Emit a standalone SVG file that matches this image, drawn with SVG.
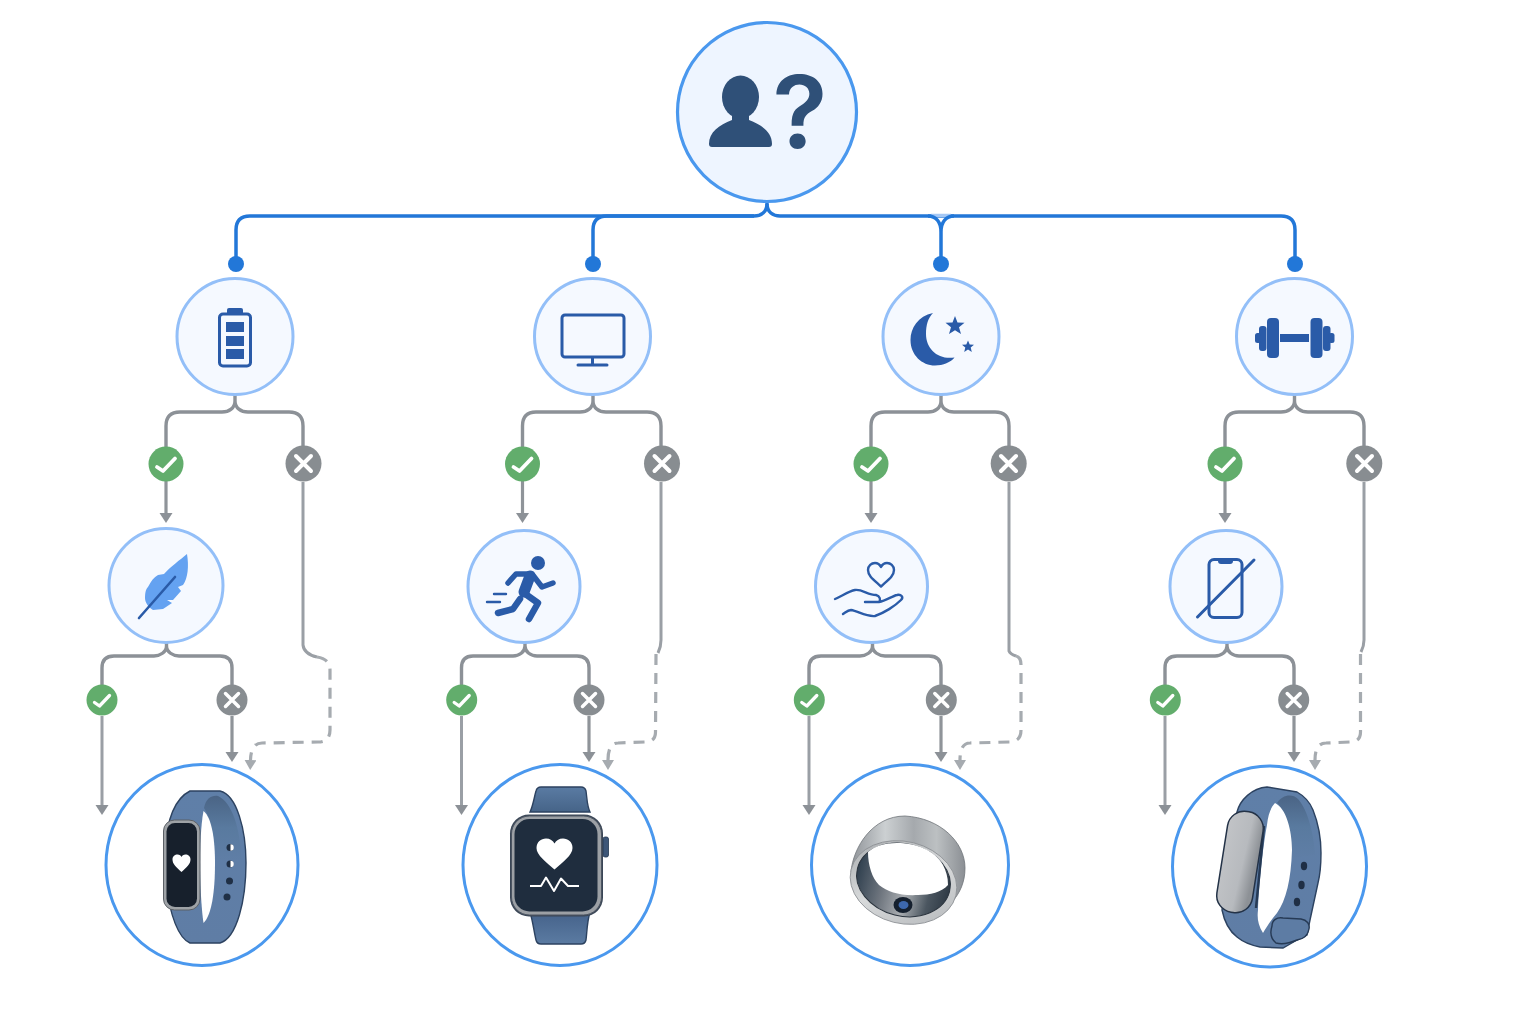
<svg xmlns="http://www.w3.org/2000/svg" width="1536" height="1024" viewBox="0 0 1536 1024">
<style>
.bg{fill:#fff}
.root{fill:#eef5ff;stroke:#4a98ee;stroke-width:3.2}
.q{fill:#f5f9ff;stroke:#93bff8;stroke-width:3}
.dev{fill:#fff;stroke:#4a98ee;stroke-width:3}
.bus{fill:none;stroke:#2277d8;stroke-width:3.5}
.dot{fill:#2277d8}
.br{fill:none;stroke:#8c9197;stroke-width:3.4}
.ar{fill:none;stroke:#8f9499;stroke-width:3.2}
.arl{fill:none;stroke:#9a9fa5;stroke-width:3}
.dash{fill:none;stroke:#a6abb0;stroke-width:3.2;stroke-dasharray:11 8}
.yes{fill:#62ad6c}
.no{fill:#888d91}
.mk{fill:none;stroke:#fff;stroke-linecap:round;stroke-linejoin:round}
.ic{fill:#2a5ba8}
.il{fill:none;stroke:#2a5ba8;stroke-width:3;stroke-linecap:round;stroke-linejoin:round}
.il2{fill:none;stroke:#2a5ba8;stroke-width:2.4;stroke-linecap:round;stroke-linejoin:round}
.limb{fill:none;stroke:#2a5ba8;stroke-width:6.5;stroke-linecap:round;stroke-linejoin:round}
.strap{stroke:#2c4260;stroke-width:1.4}
.hole{fill:#1f2f45}
</style>
<defs>
<marker id="a" markerUnits="userSpaceOnUse" markerWidth="13" markerHeight="14" refX="0" refY="6.5" orient="auto"><path d="M0 0L10 6.5L0 13Z" fill="#8c9197"/></marker>
<marker id="b" markerUnits="userSpaceOnUse" markerWidth="13" markerHeight="14" refX="0" refY="6" orient="auto"><path d="M0 0L10 6L0 12Z" fill="#a6abb0"/></marker>
<linearGradient id="blue" x1="0" y1="0" x2="0" y2="1"><stop offset="0" stop-color="#5f7fa8"/><stop offset="1" stop-color="#5f7da5"/></linearGradient>
<linearGradient id="inn" x1="0" y1="0" x2="0" y2="1"><stop offset="0" stop-color="#4a6485"/><stop offset="0.5" stop-color="#597a9f"/><stop offset="1" stop-color="#5f7ea6"/></linearGradient>
<linearGradient id="strapG" x1="0" y1="0" x2="0" y2="1"><stop offset="0" stop-color="#5a7ba3"/><stop offset="1" stop-color="#466488"/></linearGradient>
<linearGradient id="strapH" x1="0" y1="0" x2="0" y2="1"><stop offset="0" stop-color="#45628a"/><stop offset="1" stop-color="#5b7ba2"/></linearGradient>
<linearGradient id="pod" x1="0" y1="0" x2="1" y2="0.2"><stop offset="0" stop-color="#c2c4c7"/><stop offset="0.65" stop-color="#b7babe"/><stop offset="1" stop-color="#8d9196"/></linearGradient>
<linearGradient id="steel" x1="0" y1="0" x2="1" y2="0"><stop offset="0" stop-color="#8f9398"/><stop offset="0.3" stop-color="#ccd0d2"/><stop offset="0.55" stop-color="#a5a9ad"/><stop offset="0.75" stop-color="#bcc0c2"/><stop offset="1" stop-color="#8b8f94"/></linearGradient>
<linearGradient id="rim" x1="0" y1="0" x2="1" y2="1"><stop offset="0" stop-color="#a4a8ab"/><stop offset="0.5" stop-color="#d8dadb"/><stop offset="1" stop-color="#b3b6b9"/></linearGradient>
<linearGradient id="innR" x1="0" y1="0" x2="1" y2="0"><stop offset="0" stop-color="#30404f"/><stop offset="0.3" stop-color="#6e757e"/><stop offset="0.55" stop-color="#a9adb1"/><stop offset="0.8" stop-color="#4b5660"/><stop offset="1" stop-color="#2f3a45"/></linearGradient>
</defs>
<rect class="bg" width="1536" height="1024"/>

<g id="connectors">
<path class="bus" d="M767 201L767 204C767 212 761 216 754 216L250 216Q236 216 236 230L236 262"/>
<path class="bus" d="M767 204C767 212 773 216 780 216L1281 216Q1295 216 1295 230L1295 262"/>
<path class="bus" d="M754 216L607 216Q593 216 593 230L593 262"/>
<path d="M931 215.500L951 215.500" fill="none" stroke="#a5c8f5" stroke-width="3.500"/>
<path class="bus" d="M928 216C936 216 941 222 941 232L941 262M954 216C946 216 941 222 941 232"/>
<circle class="dot" cx="236" cy="264" r="8"/><circle class="dot" cx="593" cy="264" r="8"/><circle class="dot" cx="941" cy="264" r="8"/><circle class="dot" cx="1295" cy="264" r="8"/>

<path class="br" d="M235 395L235 401C235 408 229 412 222 412L180 412Q166 412 166 426L166 447M235 401C235 408 241 412 248 412L289 412Q303 412 303 426L303 446"/>
<path class="br" d="M593 395L593 401C593 408 587 412 580 412L536 412Q522.500 412 522.500 426L522.500 447M593 401C593 408 599 412 606 412L647 412Q661 412 661 426L661 446"/>
<path class="br" d="M941 395L941 401C941 408 935 412 928 412L885 412Q871 412 871 426L871 447M941 401C941 408 947 412 954 412L995 412Q1009 412 1009 426L1009 446"/>
<path class="br" d="M1294.500 395L1294.500 401C1294.500 408 1288 412 1281 412L1239 412Q1225 412 1225 426L1225 447M1294.500 401C1294.500 408 1301 412 1308 412L1350 412Q1364 412 1364 426L1364 446"/>

<path class="ar" d="M166 481L166 513" marker-end="url(#a)"/>
<path class="ar" d="M522.500 481L522.500 513" marker-end="url(#a)"/>
<path class="ar" d="M871 481L871 513" marker-end="url(#a)"/>
<path class="ar" d="M1225 481L1225 513" marker-end="url(#a)"/>

<path class="br" d="M166.500 643L166.500 646C166.500 652 160 656 154 656L114 656Q102 656 102 668L102 685M166.500 646C166.500 652 173 656 179 656L220 656Q232 656 232 668L232 685"/>
<path class="br" d="M525 643L525 646C525 652 519 656 513 656L473 656Q461.500 656 461.500 668L461.500 685M525 646C525 652 531 656 537 656L577 656Q589 656 589 668L589 685"/>
<path class="br" d="M872.500 643L872.500 646C872.500 652 866 656 860 656L821 656Q809 656 809 668L809 685M872.500 646C872.500 652 879 656 885 656L929 656Q941 656 941 668L941 685"/>
<path class="br" d="M1227 643L1227 646C1227 652 1221 656 1215 656L1177 656Q1165 656 1165 668L1165 685M1227 646C1227 652 1233 656 1239 656L1282 656Q1294 656 1294 668L1294 685"/>

<path class="arl" d="M102 716L102 805" marker-end="url(#a)"/><path class="ar" d="M232 716L232 752" marker-end="url(#a)"/>
<path class="arl" d="M461.500 716L461.500 805" marker-end="url(#a)"/><path class="ar" d="M589 716L589 752" marker-end="url(#a)"/>
<path class="arl" d="M809 716L809 805" marker-end="url(#a)"/><path class="ar" d="M941 716L941 752" marker-end="url(#a)"/>
<path class="arl" d="M1165 716L1165 805" marker-end="url(#a)"/><path class="ar" d="M1294 716L1294 752" marker-end="url(#a)"/>

<path class="arl" d="M303 482L303 645Q304 654 317 657"/>
<path class="dash" d="M317 657Q330 659 330 670L330 730Q330 742 318 742L262 743Q251 743 250.500 760" marker-end="url(#b)"/>
<path class="arl" d="M661 482L661 640Q661 647 658 653"/>
<path class="dash" d="M656 654L655.500 732Q655.500 742 645 742L618 743Q608 743 608 760" marker-end="url(#b)"/>
<path class="arl" d="M1009 482L1009 651Q1010 654 1016 656"/>
<path class="dash" d="M1016 656Q1021 657 1021 665L1021 730Q1021 742 1009 742L970 743Q960 743 960 760" marker-end="url(#b)"/>
<path class="arl" d="M1364 482L1364 640Q1364 646 1361 652"/>
<path class="dash" d="M1360.500 654L1360.500 732Q1360.500 742 1350 742L1326 743Q1315 743 1315 760" marker-end="url(#b)"/>
</g>

<g id="root-node">
<circle class="root" cx="767" cy="112" r="89.500"/>
<ellipse cx="740.500" cy="97" rx="18.500" ry="21.500" fill="#2f5078"/>
<path d="M709 144C709 132 719 125 732 120L732 112L749 112L749 120C762 125 772 132 772 144Q772 147 769 147L712 147Q709 147 709 144Z" fill="#2f5078"/>
<text x="800" y="147.500" font-family="Inter, sans-serif" font-weight="600" font-size="101" text-anchor="middle" fill="#2f5078">?</text>
</g>

<g id="q-battery">
<circle class="q" cx="235" cy="336.500" r="58"/>
<rect class="ic" x="227" y="308" width="16" height="7" rx="2"/>
<rect x="219.500" y="314" width="31" height="52" rx="3.500" fill="#f5f9ff" stroke="#2a5ba8" stroke-width="3"/>
<rect class="ic" x="226" y="322" width="18" height="10"/><rect class="ic" x="226" y="336" width="18" height="10"/><rect class="ic" x="226" y="349" width="18" height="10"/>
</g>
<g id="q-screen">
<circle class="q" cx="592.500" cy="336.500" r="58"/>
<rect class="il" x="562" y="315" width="62" height="42" rx="3"/>
<path class="il" d="M592.500 358L592.500 365M578 365L607 365"/>
</g>
<g id="q-sleep">
<circle class="q" cx="941" cy="336.500" r="58"/>
<path class="ic" d="M933 313C918 316 910.500 328 910.500 340C910.500 355 922 365.500 935 365.500C943 365.500 951 362 954.500 357.500C938 360 926 349 926 334C926 325 928 318 933 313Z"/>
<path class="ic" d="M955 316L957.500 322.500L964.500 322.800L959 327.200L961 334L955 330.200L949 334L951 327.200L945.500 322.800L952.500 322.500Z"/>
<path class="ic" d="M968 340.500L969.700 344.500L974 344.800L970.700 347.600L971.800 352L968 349.600L964.200 352L965.300 347.600L962 344.800L966.300 344.500Z"/>
</g>
<g id="q-workout">
<circle class="q" cx="1294.500" cy="336.500" r="58"/>
<rect class="ic" x="1280" y="334" width="29" height="8"/>
<rect class="ic" x="1267" y="318" width="12" height="40" rx="4"/><rect class="ic" x="1310.500" y="318" width="12" height="40" rx="4"/>
<rect class="ic" x="1259" y="326" width="7.500" height="25" rx="3"/><rect class="ic" x="1323" y="326" width="7.500" height="25" rx="3"/>
<rect class="ic" x="1255" y="333" width="6" height="10" rx="2.500"/><rect class="ic" x="1328.500" y="333" width="6" height="10" rx="2.500"/>
</g>

<g id="yes-1a"><circle class="yes" cx="166" cy="464" r="17.500"/><path class="mk" stroke-width="3.800" d="M157 467L163 471L175 458.500"/></g>
<g id="no-1a"><circle class="no" cx="303.500" cy="463.500" r="18"/><path class="mk" stroke-width="4" d="M296 456L311 471M311 456L296 471"/></g>
<g id="yes-2a"><circle class="yes" cx="522.500" cy="464" r="17.500"/><path class="mk" stroke-width="3.800" d="M513.500 467L519.500 471L531.500 458.500"/></g>
<g id="no-2a"><circle class="no" cx="662" cy="463.500" r="18"/><path class="mk" stroke-width="4" d="M654.500 456L669.500 471M669.500 456L654.500 471"/></g>
<g id="yes-3a"><circle class="yes" cx="871" cy="464" r="17.500"/><path class="mk" stroke-width="3.800" d="M862 467L868 471L880 458.500"/></g>
<g id="no-3a"><circle class="no" cx="1008.700" cy="463.500" r="18"/><path class="mk" stroke-width="4" d="M1001 456L1016 471M1016 456L1001 471"/></g>
<g id="yes-4a"><circle class="yes" cx="1225" cy="464" r="17.500"/><path class="mk" stroke-width="3.800" d="M1216 467L1222 471L1234 458.500"/></g>
<g id="no-4a"><circle class="no" cx="1364.300" cy="463.500" r="18"/><path class="mk" stroke-width="4" d="M1357 456L1372 471M1372 456L1357 471"/></g>

<g id="q-light">
<circle class="q" cx="166" cy="585.500" r="57"/>
<path d="M187 554C189 566 188 578 183 585L178 587L181 591L173 600L167 600L172 603L163 609L153 610C148 607 145 602 145 598C145 592 146 589 148 587C151 581 154 577 158 575L164 574C170 567 180 560 187 554Z" fill="#64a2f1"/>
<path d="M139 618L175 577" fill="none" stroke="#2a5ba8" stroke-width="2.600" stroke-linecap="round"/>
</g>
<g id="q-active">
<circle class="q" cx="524" cy="586.500" r="56"/>
<circle class="ic" cx="538" cy="563" r="7"/>
<path class="limb" stroke-width="5.500" d="M508 583L516 574L532 574L542 587L553 583" style="stroke-width:5.500"/>
<path class="limb" d="M530 576L524 592" style="stroke-width:11"/>
<path class="limb" d="M524 593L538 603L529 619"/>
<path class="limb" d="M520 599L513 609L498 613"/>
<path class="il2" d="M494 594L506 594M487 602L500 602"/>
</g>
<g id="q-care">
<circle class="q" cx="871.500" cy="586.500" r="56"/>
<path class="il" d="M881 586.500C874 580 868 576 868 570C868 565.500 871.500 563 875 563C878 563 880 565 881 567C882 565 884 563 887 563C890.500 563 894 565.500 894 570C894 576 888 580 881 586.500Z" style="stroke-width:2.400"/>
<path class="il2" d="M835 599C842 596 849 591 855 590C862 589 868 595 876 595C880 596 881 600 879 602L865 602M879 602C886 601 892 596 897 595C901 594 904 597 901 600C895 606 884 613 875 616C866 617 858 611 851 610C848 610 846 612 843 614"/>
</g>
<g id="q-nophone">
<circle class="q" cx="1226" cy="586.500" r="56"/>
<rect class="il" x="1209" y="559.500" width="33" height="58" rx="5"/>
<path class="ic" d="M1218 559L1233 559L1233 561Q1233 564 1230 564L1221 564Q1218 564 1218 561Z"/>
<path class="il" d="M1197.500 617L1254 560"/>
</g>

<g id="yes-1b"><circle class="yes" cx="102" cy="700" r="15.500"/><path class="mk" stroke-width="3.300" d="M94.500 702.500L99.500 706L109.500 695.500"/></g>
<g id="no-1b"><circle class="no" cx="232" cy="700" r="15.500"/><path class="mk" stroke-width="3.500" d="M225.500 693.500L238.500 706.500M238.500 693.500L225.500 706.500"/></g>
<g id="yes-2b"><circle class="yes" cx="461.700" cy="700" r="15.500"/><path class="mk" stroke-width="3.300" d="M454.200 702.500L459.200 706L469.200 695.500"/></g>
<g id="no-2b"><circle class="no" cx="589" cy="700" r="15.500"/><path class="mk" stroke-width="3.500" d="M582.500 693.500L595.500 706.500M595.500 693.500L582.500 706.500"/></g>
<g id="yes-3b"><circle class="yes" cx="809.300" cy="700" r="15.500"/><path class="mk" stroke-width="3.300" d="M801.800 702.500L806.800 706L816.800 695.500"/></g>
<g id="no-3b"><circle class="no" cx="941.300" cy="700" r="15.500"/><path class="mk" stroke-width="3.500" d="M934.800 693.500L947.800 706.500M947.800 693.500L934.800 706.500"/></g>
<g id="yes-4b"><circle class="yes" cx="1165.300" cy="700" r="15.500"/><path class="mk" stroke-width="3.300" d="M1157.800 702.500L1162.800 706L1172.800 695.500"/></g>
<g id="no-4b"><circle class="no" cx="1293.700" cy="700" r="15.500"/><path class="mk" stroke-width="3.500" d="M1287.200 693.500L1300.200 706.500M1300.200 693.500L1287.200 706.500"/></g>

<g id="device-band">
<ellipse class="dev" cx="202" cy="865" rx="96" ry="100.500"/>
<path class="strap" fill="url(#blue)" d="M190 791L220 791C237 795 246 830 246 863C246 900 237 938 220 943L190 943C178 938 170 915 165 880L165 850C167 818 176 798 190 791Z"/>
<path fill="url(#inn)" d="M204 808C206 798 212 795 218 796C232 802 241 830 241 860L215 860C215 838 211 818 204 808Z"/>
<path fill="#fff" d="M203.500 811C212 818 215 840 215 863C215 890 212 915 203.500 923C200 900 198 840 203.500 811Z"/>
<circle class="hole" cx="230" cy="847.500" r="3.500"/><circle class="hole" cx="230" cy="864" r="3.500"/><circle class="hole" cx="229.500" cy="881" r="3.500"/><circle class="hole" cx="227" cy="897" r="3.500"/>
<path d="M230.500 844.200A3.300 3.300 0 0 1 230.500 850.800Z M230.500 860.700A3.300 3.300 0 0 1 230.500 867.300Z" fill="#fff"/>
<rect x="163.500" y="820" width="36.500" height="90" rx="11" fill="#9ea2a6" stroke="#5b6066" stroke-width="1"/>
<rect x="166.500" y="823" width="30.500" height="84" rx="8.500" fill="#17202c"/>
<path fill="#fff" d="M181.500 872C176 867 172.500 864 172.500 859.500C172.500 856 175 854.500 177.500 854.500C179.500 854.500 181 855.700 181.500 857C182 855.700 183.500 854.500 185.500 854.500C188 854.500 190.500 856 190.500 859.500C190.500 864 187 867 181.500 872Z"/>
</g>

<g id="device-watch">
<ellipse class="dev" cx="560" cy="865" rx="97" ry="100.500"/>
<path class="strap" fill="url(#strapG)" d="M541 787L581 787Q585 787 586 791C587 798 587 806 590 812L530 812C533 806 534 798 536 791Q537 787 541 787Z"/>
<path class="strap" fill="url(#strapH)" d="M530 912L590 912C587 922 587 932 586 940Q585 944 581 944L541 944Q537 944 536 940C534 932 533 922 530 912Z"/>
<rect x="603" y="837" width="5.500" height="20" rx="2" fill="#3d5677" stroke="#22364f" stroke-width="0.800"/>
<rect x="510" y="814.500" width="93" height="102" rx="19" fill="#3a4656"/>
<rect x="511.500" y="816" width="90" height="99" rx="18" fill="#9ca0a5" stroke="#4c5562" stroke-width="1"/>
<rect x="514.500" y="819" width="83" height="92.500" rx="15" fill="#1f2d3e"/>
<path fill="#fff" d="M554.500 869.500C546 862 536.500 855 536.500 848C536.500 842 541 838.500 546 838.500C550 838.500 553 840.500 554.500 843.500C556 840.500 559 838.500 563 838.500C568 838.500 572.500 842 572.500 848C572.500 855 563 862 554.500 869.500Z"/>
<path fill="none" stroke="#fff" stroke-width="2" stroke-linejoin="round" d="M530 886L541 886L546 877.500L554 891L561 878.500L568 886L579 886"/>
</g>

<g id="device-ring">
<ellipse class="dev" cx="910" cy="865" rx="98.500" ry="100.500"/>
<path fill="url(#steel)" stroke="#6f7479" stroke-width="0.800" d="M851 872C853 848 872 816 905 816C940 818 965 842 965 868C965 882 960 893 952 902L930 915L880 900Z"/>
<ellipse cx="903.500" cy="882.500" rx="54" ry="41" fill="url(#rim)" stroke="#8b8f93" stroke-width="0.800" transform="rotate(14 903.500 882.500)"/>
<ellipse cx="903.500" cy="880" rx="47.500" ry="36" fill="url(#innR)" stroke="#2a333d" stroke-width="1" transform="rotate(14 903.500 880)"/>
<path fill="#fff" d="M868 852C875 846 885 843 897 843C915 843 935 850 943 865C946 871 948 877 948 885C942 892 930 895 918 895C900 896 888 892 879 885C872 878 868 865 868 852Z"/>
<ellipse cx="903" cy="905" rx="9.500" ry="8" fill="#15202e"/>
<ellipse cx="903.500" cy="905" rx="5" ry="4" fill="#3d68ad"/>
</g>

<g id="device-tracker">
<ellipse class="dev" cx="1269.500" cy="866.500" rx="97" ry="100.500"/>
<path class="strap" fill="url(#blue)" d="M1237 812C1240 800 1252 788 1267 787L1297 792C1306 797 1311 805 1313 810C1319 825 1321 840 1321 853C1321 865 1320 875 1318 883L1310 920L1307 935L1297 940L1283 948L1260 947C1250 945 1243 942 1237 937C1228 930 1224 920 1222 910Z"/>
<path fill="url(#inn)" d="M1277 803C1282 795 1292 793 1298 799C1308 810 1314 835 1315 855L1292 858C1292 835 1287 812 1277 803Z"/>
<path fill="#fff" d="M1275 803C1286 808 1292 830 1292 850C1291 880 1286 900 1277 913C1271 920 1266 928 1263 933C1258 925 1257 918 1258 910C1259 885 1263 845 1267 825C1268 815 1271 807 1275 803Z"/>
<path fill="#5d7ca4" stroke="#263a55" stroke-width="1.400" d="M1272 926C1272 920 1277 917 1283 918L1301 919C1307 920 1310 924 1309 929C1308 935 1304 939 1297 940C1290 943 1283 945 1276 943C1270 938 1270 932 1272 926Z"/>
<ellipse class="hole" cx="1304" cy="866" rx="3.200" ry="4.200"/><ellipse class="hole" cx="1301.500" cy="885" rx="3.200" ry="4.200"/><ellipse class="hole" cx="1297" cy="902" rx="3.200" ry="4.200"/>
<path d="M1264 826L1256 908" fill="none" stroke="#263a55" stroke-width="2.500"/>
<rect x="1222" y="811" width="36" height="102" rx="17" fill="url(#pod)" stroke="#233247" stroke-width="1.500" transform="rotate(9 1240 862)"/>
</g>
</svg>
